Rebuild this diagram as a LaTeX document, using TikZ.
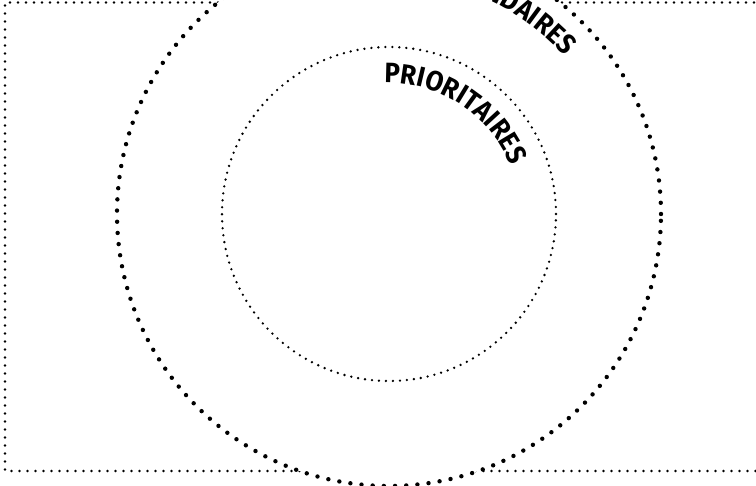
\documentclass[tikz,border=0pt]{standalone}
\usepackage{fontspec}
\usetikzlibrary{decorations.text}
\newfontfamily\ringfont[FakeStretch=0.92]{Fira Sans}

\begin{document}
\begin{tikzpicture}[
  x=1pt, y=1pt,
  framebox/.style={line width=2.6pt, line cap=round, dash pattern=on 0pt off 8pt},
  bigring/.style={line width=4.4pt, line cap=round, dash pattern=on 0pt off 11.2pt},
  smallring/.style={line width=2.6pt, line cap=round, dash pattern=on 0pt off 7pt},
  ringtext/.style={decorate, decoration={text along path, text align=#1}}
]
\useasboundingbox (0,0) rectangle (756,486);
\clip (0,0) rectangle (756,486);

\coordinate (centre) at (389,272);

% ---- frame (right side runs off the page) ----
\draw[framebox] (770,483.5) -| (5,15) -- (770,15);

% ---- outer ring, hides the frame inside it ----
\fill[white] (centre) circle (272pt);
\draw[bigring] (centre) circle (272pt);

% ---- inner ring ----
\draw[smallring] (centre) circle (167pt);

% ---- ring names ----
\path[ringtext=right, decoration={text={|\ringfont\bfseries\fontsize{28}{28}\selectfont|SECONDAIRES}}]
  ([shift={(140:236pt)}]centre) arc[start angle=140, end angle=42, radius=236pt];
\path[ringtext=left, decoration={text={|\ringfont\bfseries\fontsize{28}{28}\selectfont|PRIORITAIRES}}]
  ([shift={(92:131pt)}]centre) arc[start angle=92, end angle=0, radius=131pt];

\end{tikzpicture}
\end{document}
